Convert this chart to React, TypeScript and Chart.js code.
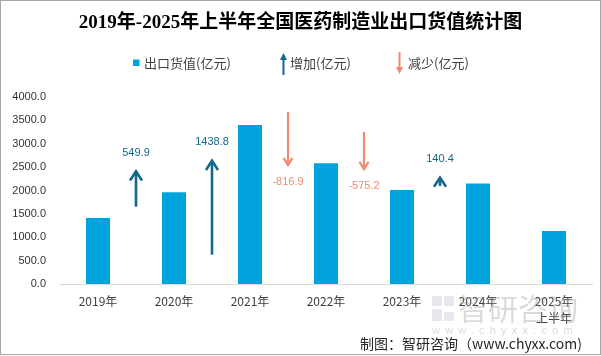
import React, { useEffect, useRef } from "react";
import { Chart, registerables } from "chart.js";

Chart.register(...registerables);

const TITLE = "2019年-2025年上半年全国医药制造业出口货值统计图";
const categories: (string | string[])[] = ["2019年", "2020年", "2021年", "2022年", "2023年", "2024年", ["2025年", "上半年"]];
const exportValues = [1412.3, 1962.2, 3401.0, 2584.1, 2008.9, 2149.3, 1134.0];
const changeValues = [549.9, 1438.8, -816.9, -575.2, 140.4];
// arrow base positions on the secondary (hidden) axis
const arrowStarts = [1174, 445, 2612, 2308, 1488];
const legendLabels = ["出口货值(亿元)", "增加(亿元)", "减少(亿元)"];
const footerText = "制图：智研咨询（www.chyxx.com)";

const BAR_COLOR = "#00a3dc";
const UP_COLOR = "#12698a";
const DOWN_COLOR = "#f08a72";
const CJK = '"Noto Sans CJK SC", "Liberation Sans", sans-serif';

function drawArrow(ctx: CanvasRenderingContext2D, x: number, yFrom: number, yTo: number, color: string, lw: number, hw: number, hh: number, filled: boolean) {
  const dir = yTo < yFrom ? 1 : -1; // 1 => pointing up
  ctx.save();
  ctx.strokeStyle = color;
  ctx.fillStyle = color;
  ctx.lineWidth = lw;
  ctx.lineCap = "butt";
  ctx.lineJoin = "miter";
  ctx.beginPath();
  ctx.moveTo(x, yFrom);
  ctx.lineTo(x, filled ? yTo + dir * hh * 0.8 : yTo + dir * lw * 0.5);
  ctx.stroke();
  ctx.beginPath();
  if (filled) {
    ctx.moveTo(x, yTo);
    ctx.lineTo(x - hw, yTo + dir * hh);
    ctx.lineTo(x + hw, yTo + dir * hh);
    ctx.closePath();
    ctx.fill();
  } else {
    ctx.moveTo(x - hw, yTo + dir * hh);
    ctx.lineTo(x, yTo + dir * lw * 0.3);
    ctx.lineTo(x + hw, yTo + dir * hh);
    ctx.stroke();
  }
  ctx.restore();
}

const arrowsPlugin = {
  id: "changeArrows",
  afterDatasetsDraw(chart: any) {
    const { ctx, scales } = chart;
    const x = scales.x;
    const y2 = scales.y2;
    changeValues.forEach((chg, i) => {
      const px = (x.getPixelForValue(i) + x.getPixelForValue(i + 1)) / 2;
      const yFrom = y2.getPixelForValue(arrowStarts[i]);
      const yTo = y2.getPixelForValue(arrowStarts[i] + chg);
      const up = chg > 0;
      if (up) {
        drawArrow(ctx, px, yFrom, yTo, UP_COLOR, 2.6, 6, 10, false);
      } else {
        drawArrow(ctx, px, yFrom, yTo, DOWN_COLOR, 2.2, 4.5, 8, false);
      }
      ctx.save();
      ctx.font = '11px "Liberation Sans", "DejaVu Sans", sans-serif';
      ctx.textAlign = "center";
      ctx.textBaseline = "middle";
      ctx.fillStyle = up ? UP_COLOR : DOWN_COLOR;
      ctx.fillText(chg.toFixed(1), px, up ? yTo - 18 : yTo + 16.5);
      ctx.restore();
    });
  },
};

const decorPlugin = {
  id: "decor",
  afterDraw(chart: any) {
    const { ctx } = chart;
    ctx.save();
    // legend
    ctx.font = `13px ${CJK}`;
    ctx.textBaseline = "middle";
    ctx.textAlign = "left";
    ctx.fillStyle = BAR_COLOR;
    ctx.fillRect(133, 59.5, 6.5, 6.5);
    ctx.fillStyle = "#404040";
    ctx.fillText(legendLabels[0], 144, 63);
    drawArrow(ctx, 283.5, 75, 53, UP_COLOR, 2, 3.5, 7, true);
    ctx.fillStyle = "#404040";
    ctx.fillText(legendLabels[1], 290, 63);
    drawArrow(ctx, 399.5, 52, 74, DOWN_COLOR, 2, 3.5, 7, true);
    ctx.fillStyle = "#404040";
    ctx.fillText(legendLabels[2], 408, 63);

    // watermark
    ctx.fillStyle = "rgba(160,170,185,0.28)";
    ctx.fillRect(432, 296, 10, 10);
    ctx.fillRect(444, 296, 10, 10);
    ctx.fillRect(432, 309, 10, 12);
    ctx.fillRect(444, 312, 10, 9);
    ctx.fillStyle = "rgba(150,150,150,0.35)";
    ctx.font = `30px ${CJK}`;
    ctx.textAlign = "left";
    ctx.fillText("智研咨询", 458, 309);
    ctx.font = '11px "Liberation Sans", sans-serif';
    (ctx as any).letterSpacing = "5.2px";
    ctx.fillText("www.chyxx.com", 432, 331);
    (ctx as any).letterSpacing = "0px";

    // footer
    ctx.fillStyle = "#262626";
    ctx.font = `14px ${CJK}`;
    ctx.textAlign = "right";
    ctx.fillText(footerText, 582, 344);

    // border
    ctx.strokeStyle = "#a6a6a6";
    ctx.lineWidth = 1;
    ctx.strokeRect(0.5, 0.5, 600, 354);
    ctx.restore();
  },
};

export default function App() {
  const ref = useRef<HTMLCanvasElement>(null);
  useEffect(() => {
    if (!ref.current) return;
    const chart = new Chart(ref.current, {
      type: "bar",
      data: {
        labels: categories as any,
        datasets: [
          {
            label: legendLabels[0],
            data: exportValues,
            backgroundColor: BAR_COLOR,
            barPercentage: 0.316,
            categoryPercentage: 1,
            yAxisID: "y",
          },
        ],
      },
      options: {
        responsive: false,
        animation: false,
        layout: { padding: { left: 9, right: 9, top: 0, bottom: 0 } },
        plugins: {
          legend: { display: false },
          tooltip: { enabled: false },
          title: {
            display: true,
            text: TITLE,
            color: "#000",
            font: { size: 19, weight: "bold", family: '"Liberation Serif", "Noto Sans CJK SC", serif', lineHeight: 1.2 },
            padding: { top: 12, bottom: 62.2 },
          },
        },
        scales: {
          x: {
            type: "category",
            offset: true,
            grid: { display: false, drawTicks: false },
            border: { display: true, color: "#d9d9d9", width: 1 },
            ticks: {
              color: "#404040",
              font: { size: 12, family: CJK, lineHeight: 1.4 },
              padding: 9,
              maxRotation: 0,
              autoSkip: false,
            },
            afterFit: (s: any) => {
              s.height = 72;
            },
          },
          y: {
            type: "linear",
            position: "left",
            min: 0,
            max: 4000,
            grid: { display: false, drawTicks: false },
            border: { display: false },
            ticks: {
              stepSize: 500,
              color: "#333",
              font: { size: 11, family: '"Liberation Sans", "DejaVu Sans", sans-serif' },
              padding: 14,
              callback: (v: any) => Number(v).toFixed(1),
            },
            afterFit: (s: any) => {
              s.width = 51;
            },
          },
          y2: {
            type: "linear",
            display: false,
            min: 0,
            max: 2840,
          },
        },
      },
      plugins: [arrowsPlugin, decorPlugin],
    } as any);
    return () => chart.destroy();
  }, []);
  return (
    <div style={{ position: "absolute", left: 0, top: 0, width: 601, height: 356, background: "#fff" }}>
      <canvas ref={ref} width={601} height={356} style={{ display: "block" }} />
    </div>
  );
}
